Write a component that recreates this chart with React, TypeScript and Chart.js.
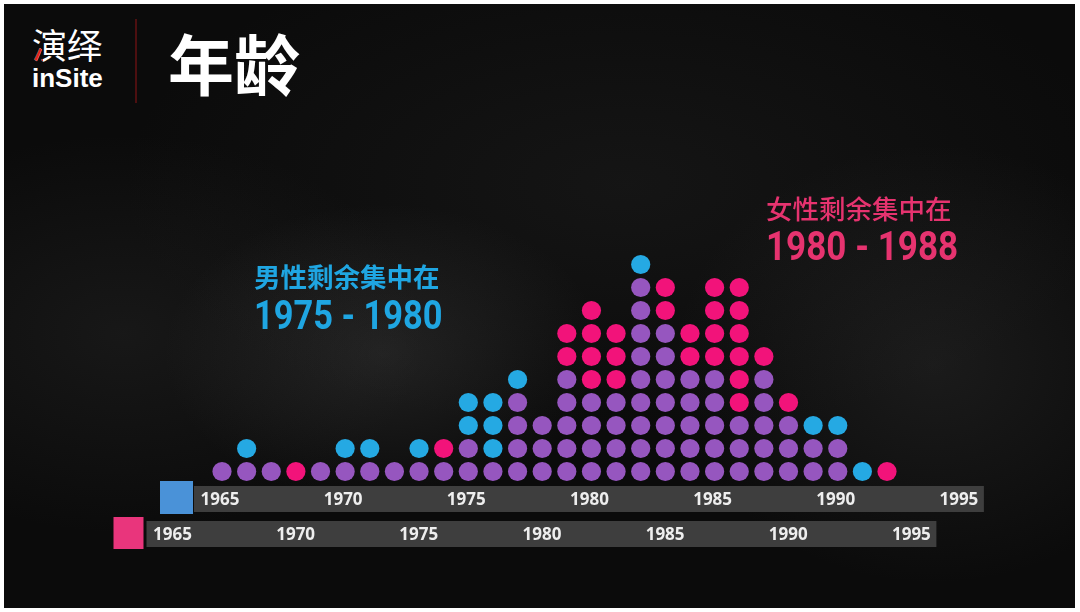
import React, { useEffect, useRef } from "react";
import { Chart, registerables } from "chart.js";

Chart.register(...registerables);

// ---------- data ----------
const years = [
  1965, 1966, 1967, 1968, 1969, 1970, 1971, 1972, 1973, 1974, 1975, 1976, 1977, 1978,
  1979, 1980, 1981, 1982, 1983, 1984, 1985, 1986, 1987, 1988, 1989, 1990, 1991, 1992,
];
// dots shared by both (purple), stacked at the bottom
const sharedCounts = [1, 1, 1, 0, 1, 1, 1, 1, 1, 1, 2, 1, 4, 3, 5, 4, 4, 9, 7, 5, 5, 3, 5, 3, 2, 2, 0, 0];
// male surplus dots (blue), stacked above
const maleCounts = [0, 1, 0, 0, 0, 1, 1, 0, 1, 0, 2, 3, 1, 0, 0, 0, 0, 1, 0, 0, 0, 0, 0, 0, 1, 1, 1, 0];
// female surplus dots (pink), stacked above
const femaleCounts = [0, 0, 0, 1, 0, 0, 0, 0, 0, 1, 0, 0, 0, 0, 2, 4, 3, 0, 2, 2, 4, 6, 1, 1, 0, 0, 0, 1];

const maleTicks = [1965, 1970, 1975, 1980, 1985, 1990, 1995];
const femaleTicks = [1965, 1970, 1975, 1980, 1985, 1990, 1995];

const titleText = "年龄";
const logoCn = "演绎";
const logoEn = "inSite";
const maleNote = "男性剩余集中在";
const maleRange = "1975 - 1980";
const femaleNote = "女性剩余集中在";
const femaleRange = "1980 - 1988";

// ---------- style ----------
const PURPLE = "#9656bf";
const BLUE = "#25a9e3";
const PINK = "#f2137a";
const BAR_GRAY = "#3e3e3e";
const BLUE_SQ = "#4a92d8";
const PINK_SQ = "#e9357c";
const BLUE_TEXT = "#1fa6e2";
const PINK_TEXT = "#e6336f";

const W = 1080;
const H = 612;

function buildStacks() {
  const shared: { x: number; y: number }[] = [];
  const male: { x: number; y: number }[] = [];
  const female: { x: number; y: number }[] = [];
  years.forEach((yr, i) => {
    let level = 0;
    for (let k = 0; k < sharedCounts[i]; k++) shared.push({ x: yr, y: level++ });
    for (let k = 0; k < maleCounts[i]; k++) male.push({ x: yr, y: level++ });
    for (let k = 0; k < femaleCounts[i]; k++) female.push({ x: yr, y: level++ });
  });
  return { shared, male, female };
}

const axisPlugin = {
  id: "yearBars",
  beforeDatasetsDraw(chart: any) {
    const ctx = chart.ctx as CanvasRenderingContext2D;
    const rows = [
      { scale: chart.scales.x, ticks: maleTicks, top: 486, h: 26, sq: BLUE_SQ, sqTop: 481, sqH: 33, sqW: 33, gap: 1, shift: -2 },
      { scale: chart.scales.xF, ticks: femaleTicks, top: 521, h: 26, sq: PINK_SQ, sqTop: 517, sqH: 32, sqW: 30, gap: 3, shift: 0 },
    ];
    ctx.save();
    rows.forEach((r) => {
      const first = r.scale.getPixelForValue(r.ticks[0]) + r.shift;
      const last = r.scale.getPixelForValue(r.ticks[r.ticks.length - 1]) + r.shift;
      const left = first - 26;
      const right = last + 25;
      ctx.fillStyle = BAR_GRAY;
      ctx.fillRect(left, r.top, right - left, r.h);
      ctx.fillStyle = r.sq;
      ctx.fillRect(left - r.gap - r.sqW, r.sqTop, r.sqW, r.sqH);
      ctx.fillStyle = "#eeeeee";
      ctx.font = "bold 17px 'Open Sans', sans-serif";
      ctx.textAlign = "center";
      ctx.textBaseline = "middle";
      r.ticks.forEach((t) => {
        const px = r.scale.getPixelForValue(t) + r.shift;
        ctx.fillText(String(t), px, r.top + r.h / 2 + 1);
      });
    });
    ctx.restore();
  },
};

const textPlugin = {
  id: "notes",
  afterDraw(chart: any) {
    const ctx = chart.ctx as CanvasRenderingContext2D;
    ctx.save();
    ctx.textAlign = "left";
    // male note
    ctx.fillStyle = BLUE_TEXT;
    ctx.font = "bold 26.5px 'Noto Sans CJK SC', sans-serif";
    ctx.textBaseline = "middle";
    ctx.fillText(maleNote, 254, 277);
    ctx.textBaseline = "alphabetic";
    ctx.save();
    ctx.translate(254, 329);
    ctx.scale(0.86, 1);
    ctx.font = "bold 40px Roboto, sans-serif";
    ctx.fillText(maleRange, 0, 0);
    ctx.restore();
    // female note
    ctx.fillStyle = PINK_TEXT;
    ctx.font = "500 26.5px 'Noto Sans CJK SC', sans-serif";
    ctx.textBaseline = "middle";
    ctx.fillText(femaleNote, 766, 209);
    ctx.textBaseline = "alphabetic";
    ctx.save();
    ctx.translate(766, 260);
    ctx.scale(0.855, 1);
    ctx.font = "bold 41px Roboto, sans-serif";
    ctx.fillText(femaleRange, 0, 0);
    ctx.restore();
    ctx.restore();
  },
};

export default function App() {
  const ref = useRef<HTMLCanvasElement | null>(null);

  useEffect(() => {
    document.body.style.margin = "0";
    const canvas = ref.current;
    if (!canvas) return;
    const { shared, male, female } = buildStacks();
    const slope = 24.63; // px per year
    const rowH = 23; // px per dot row
    const xMin = 1965 - 222 / slope;
    const xFMin = 1965 - 172.5 / slope;
    const yMin = -(H - 471.5) / rowH;
    const chart = new Chart(canvas, {
      type: "scatter",
      data: {
        datasets: [
          { label: "共同", data: shared, backgroundColor: PURPLE, pointRadius: 9.6, borderWidth: 0 },
          { label: "男性", data: male, backgroundColor: BLUE, pointRadius: 9.6, borderWidth: 0 },
          { label: "女性", data: female, backgroundColor: PINK, pointRadius: 9.6, borderWidth: 0 },
        ],
      },
      options: {
        animation: false,
        responsive: false,
        maintainAspectRatio: false,
        devicePixelRatio: 1,
        layout: { padding: 0, autoPadding: false },
        scales: {
          x: { type: "linear", display: false, min: xMin, max: xMin + W / slope },
          xF: { type: "linear", axis: "x", display: false, min: xFMin, max: xFMin + W / slope },
          y: { type: "linear", display: false, min: yMin, max: yMin + H / rowH },
        },
        plugins: {
          legend: { display: false },
          tooltip: { enabled: false },
        },
      },
      plugins: [axisPlugin, textPlugin],
    });
    return () => chart.destroy();
  }, []);

  return (
    <div style={{ position: "fixed", left: 0, top: 0, width: W, height: H, background: "#ffffff", overflow: "hidden" }}>
      <div
        style={{
          position: "absolute",
          left: 4,
          top: 4,
          width: 1071,
          height: 604,
          background:
            "radial-gradient(ellipse 220px 150px at 380px 350px, rgba(110,110,110,0.22), rgba(0,0,0,0)), " +
            "radial-gradient(ellipse 260px 220px at 930px 360px, rgba(100,100,100,0.18), rgba(0,0,0,0)), " +
            "radial-gradient(ellipse 300px 200px at 120px 330px, rgba(90,90,90,0.16), rgba(0,0,0,0)), " +
            "radial-gradient(ellipse 500px 250px at 620px 180px, rgba(60,60,60,0.2), rgba(0,0,0,0)), " +
            "#0b0b0b",
        }}
      />
      {/* logo */}
      <div style={{ position: "absolute", left: 32, top: 22, fontFamily: "'Noto Sans CJK SC', sans-serif", fontSize: 35, lineHeight: "44px", color: "#ffffff", fontWeight: 400 }}>
        {logoCn}
      </div>
      <div
        style={{
          position: "absolute",
          left: 32,
          top: 22,
          fontFamily: "'Noto Sans CJK SC', sans-serif",
          fontSize: 35,
          lineHeight: "44px",
          color: "#e0241b",
          fontWeight: 400,
          clipPath: "inset(55% 59px 0 0)",
        }}
      >
        {logoCn}
      </div>
      <div style={{ position: "absolute", left: 32, top: 63, fontFamily: "'Liberation Sans', Arial, sans-serif", fontSize: 26, lineHeight: "30px", color: "#ffffff", fontWeight: 700 }}>
        {logoEn}
      </div>
      <div style={{ position: "absolute", left: 135, top: 19, width: 2, height: 84, background: "#4d0f10" }} />
      <div style={{ position: "absolute", left: 168, top: 19, fontFamily: "'Noto Sans CJK SC', sans-serif", fontSize: 66, lineHeight: "84px", color: "#ffffff", fontWeight: 700 }}>
        {titleText}
      </div>
      <canvas ref={ref} width={W} height={H} style={{ position: "absolute", left: 0, top: 0, width: W, height: H }} />
    </div>
  );
}
